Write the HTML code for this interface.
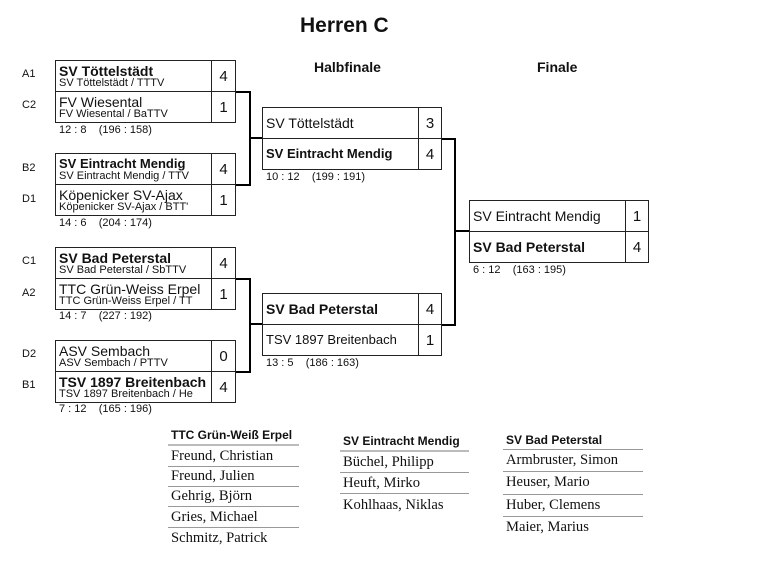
<!DOCTYPE html>
<html><head><meta charset="utf-8"><style>
body{margin:0;width:761px;height:562px;background:#fff;position:relative;font-family:"Liberation Sans",sans-serif;color:#111;overflow:hidden}
.a{position:absolute;white-space:nowrap}
.c{position:absolute;border:1px solid #222;box-sizing:border-box;background:#fff;overflow:hidden;white-space:nowrap}
.n1{font-size:14px;line-height:14px;position:absolute;left:3px;top:3px}
.n2{font-size:11px;line-height:11px;position:absolute;left:3px;top:17px}
.s{font-size:15px;text-align:center;line-height:31px}
.sn{font-size:14px;line-height:30px;padding-left:3px}
.lbl{font-size:11px}
.sc{font-size:11px}
.l{position:absolute;background:#000}
.h{position:absolute;border-bottom:1px solid #999;font-family:"Liberation Serif",serif;font-size:14.6px;line-height:20px;padding-left:3px;box-sizing:border-box;white-space:nowrap}
.th{position:absolute;font-size:12px;font-weight:bold;border-bottom:2px solid #bbb;padding-left:3px;box-sizing:border-box}
</style></head><body>
<div class="a" style="left:300px;top:14px;font-size:21px;font-weight:bold">Herren C</div>
<div class="a" style="left:314px;top:59px;font-size:14px;font-weight:bold">Halbfinale</div>
<div class="a" style="left:537px;top:59px;font-size:14px;font-weight:bold">Finale</div>

<div class="a lbl" style="left:22px;top:68px">A1</div>
<div class="a lbl" style="left:22px;top:99px">C2</div>
<div class="a lbl" style="left:22px;top:162px">B2</div>
<div class="a lbl" style="left:22px;top:193px">D1</div>
<div class="a lbl" style="left:22px;top:255px">C1</div>
<div class="a lbl" style="left:22px;top:287px">A2</div>
<div class="a lbl" style="left:22px;top:348px">D2</div>
<div class="a lbl" style="left:22px;top:379px">B1</div>

<div class="c" style="left:55px;top:60px;width:157px;height:32px"><div class="n1" style="font-weight:bold">SV Töttelstädt</div><div class="n2">SV Töttelstädt / TTTV</div></div>
<div class="c s" style="left:211px;top:60px;width:25px;height:32px">4</div>
<div class="c" style="left:55px;top:91px;width:157px;height:32px"><div class="n1">FV Wiesental</div><div class="n2">FV Wiesental / BaTTV</div></div>
<div class="c s" style="left:211px;top:91px;width:25px;height:32px">1</div>
<div class="a sc" style="left:59px;top:124px">12 : 8&nbsp;&nbsp;&nbsp; (196 : 158)</div>

<div class="c" style="left:55px;top:153px;width:157px;height:32px"><div class="n1" style="font-weight:bold;font-size:13px">SV Eintracht Mendig</div><div class="n2">SV Eintracht Mendig / TTV</div></div>
<div class="c s" style="left:211px;top:153px;width:25px;height:32px">4</div>
<div class="c" style="left:55px;top:184px;width:157px;height:32px"><div class="n1">Köpenicker SV-Ajax</div><div class="n2">Köpenicker SV-Ajax / BTT'</div></div>
<div class="c s" style="left:211px;top:184px;width:25px;height:32px">1</div>
<div class="a sc" style="left:59px;top:217px">14 : 6&nbsp;&nbsp;&nbsp; (204 : 174)</div>

<div class="c" style="left:55px;top:247px;width:157px;height:32px"><div class="n1" style="font-weight:bold">SV Bad Peterstal</div><div class="n2">SV Bad Peterstal / SbTTV</div></div>
<div class="c s" style="left:211px;top:247px;width:25px;height:32px">4</div>
<div class="c" style="left:55px;top:278px;width:157px;height:32px"><div class="n1">TTC Grün-Weiss Erpel</div><div class="n2">TTC Grün-Weiss Erpel / TT</div></div>
<div class="c s" style="left:211px;top:278px;width:25px;height:32px">1</div>
<div class="a sc" style="left:59px;top:310px">14 : 7&nbsp;&nbsp;&nbsp; (227 : 192)</div>

<div class="c" style="left:55px;top:340px;width:157px;height:32px"><div class="n1">ASV Sembach</div><div class="n2">ASV Sembach / PTTV</div></div>
<div class="c s" style="left:211px;top:340px;width:25px;height:32px">0</div>
<div class="c" style="left:55px;top:371px;width:157px;height:32px"><div class="n1" style="font-weight:bold">TSV 1897 Breitenbach</div><div class="n2">TSV 1897 Breitenbach / He</div></div>
<div class="c s" style="left:211px;top:371px;width:25px;height:32px">4</div>
<div class="a sc" style="left:59px;top:403px">7 : 12&nbsp;&nbsp;&nbsp; (165 : 196)</div>

<div class="l" style="left:236px;top:91px;width:15px;height:2px"></div>
<div class="l" style="left:249px;top:91px;width:2px;height:95px"></div>
<div class="l" style="left:236px;top:184px;width:15px;height:2px"></div>
<div class="l" style="left:249px;top:137px;width:13px;height:2px"></div>

<div class="l" style="left:236px;top:278px;width:15px;height:2px"></div>
<div class="l" style="left:249px;top:278px;width:2px;height:95px"></div>
<div class="l" style="left:236px;top:371px;width:15px;height:2px"></div>
<div class="l" style="left:249px;top:323px;width:13px;height:2px"></div>

<div class="c sn" style="left:262px;top:107px;width:157px;height:32px">SV Töttelstädt</div>
<div class="c s" style="left:418px;top:107px;width:24px;height:32px">3</div>
<div class="c sn" style="left:262px;top:138px;width:157px;height:32px;font-weight:bold;font-size:13px">SV Eintracht Mendig</div>
<div class="c s" style="left:418px;top:138px;width:24px;height:32px">4</div>
<div class="a sc" style="left:266px;top:171px">10 : 12&nbsp;&nbsp;&nbsp; (199 : 191)</div>

<div class="c sn" style="left:262px;top:293px;width:157px;height:32px;font-weight:bold">SV Bad Peterstal</div>
<div class="c s" style="left:418px;top:293px;width:24px;height:32px">4</div>
<div class="c sn" style="left:262px;top:324px;width:157px;height:32px;font-size:13px">TSV 1897 Breitenbach</div>
<div class="c s" style="left:418px;top:324px;width:24px;height:32px">1</div>
<div class="a sc" style="left:266px;top:357px">13 : 5&nbsp;&nbsp;&nbsp; (186 : 163)</div>

<div class="l" style="left:442px;top:138px;width:14px;height:2px"></div>
<div class="l" style="left:454px;top:138px;width:2px;height:188px"></div>
<div class="l" style="left:442px;top:324px;width:14px;height:2px"></div>
<div class="l" style="left:454px;top:230px;width:15px;height:2px"></div>

<div class="c sn" style="left:469px;top:200px;width:157px;height:32px">SV Eintracht Mendig</div>
<div class="c s" style="left:625px;top:200px;width:24px;height:32px">1</div>
<div class="c sn" style="left:469px;top:231px;width:157px;height:32px;font-weight:bold">SV Bad Peterstal</div>
<div class="c s" style="left:625px;top:231px;width:24px;height:32px">4</div>
<div class="a sc" style="left:473px;top:264px">6 : 12&nbsp;&nbsp;&nbsp; (163 : 195)</div>

<div class="th" style="left:168px;top:428px;width:131px;height:18px">TTC Grün-Weiß Erpel</div>
<div class="h" style="left:168px;top:446px;width:131px;height:21px">Freund, Christian</div>
<div class="h" style="left:168px;top:466px;width:131px;height:21px">Freund, Julien</div>
<div class="h" style="left:168px;top:486px;width:131px;height:21px">Gehrig, Björn</div>
<div class="h" style="left:168px;top:507px;width:131px;height:21px">Gries, Michael</div>
<div class="h" style="left:168px;top:528px;width:131px;height:21px;border:none">Schmitz, Patrick</div>

<div class="th" style="left:340px;top:434px;width:129px;height:18px">SV Eintracht Mendig</div>
<div class="h" style="left:340px;top:452px;width:129px;height:21px">Büchel, Philipp</div>
<div class="h" style="left:340px;top:473px;width:129px;height:21px">Heuft, Mirko</div>
<div class="h" style="left:340px;top:495px;width:129px;height:21px;border:none">Kohlhaas, Niklas</div>

<div class="th" style="left:503px;top:433px;width:140px;height:17px;border-bottom:1px solid #999">SV Bad Peterstal</div>
<div class="h" style="left:503px;top:450px;width:140px;height:22px">Armbruster, Simon</div>
<div class="h" style="left:503px;top:472px;width:140px;height:23px">Heuser, Mario</div>
<div class="h" style="left:503px;top:495px;width:140px;height:22px">Huber, Clemens</div>
<div class="h" style="left:503px;top:517px;width:140px;height:22px;border:none">Maier, Marius</div>
</body></html>
